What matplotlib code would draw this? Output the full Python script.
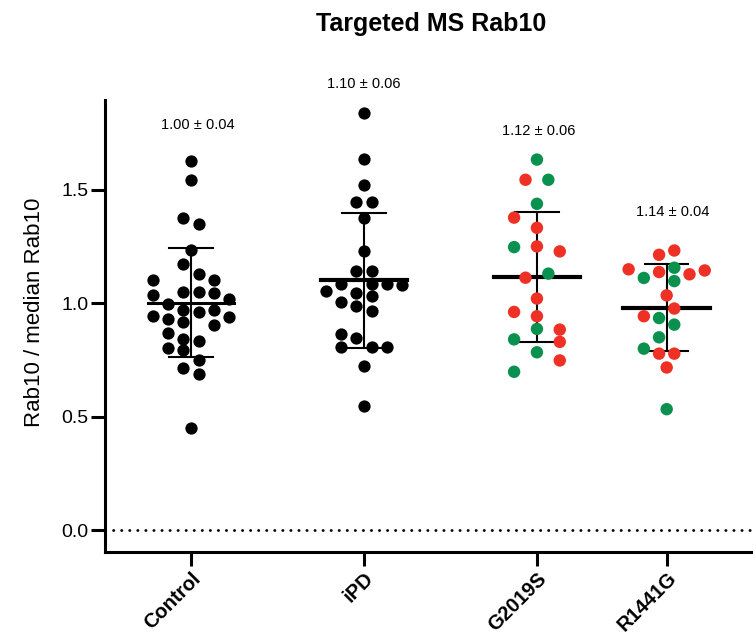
import numpy as np
import matplotlib.pyplot as plt

plt.rcParams['font.family'] = ['Liberation Sans', 'DejaVu Sans']

groups = ["Control", "iPD", "G2019S", "R1441G"]
group_pos = [0, 1, 2, 2.75]

# Rab10 / median Rab10 per sample
control = [1.627, 1.545, 1.378, 1.348, 1.233, 1.175, 1.131, 1.101, 1.101, 1.048, 1.048,
           1.045, 1.035, 1.021, 0.998, 0.972, 0.962, 0.970, 0.944, 0.940, 0.929, 0.918,
           0.906, 0.869, 0.843, 0.834, 0.803, 0.792, 0.749, 0.715, 0.687, 0.448]
ipd = [1.838, 1.637, 1.523, 1.449, 1.449, 1.378, 1.231, 1.142, 1.142, 1.087, 1.087,
       1.087, 1.079, 1.054, 1.045, 1.031, 1.006, 0.987, 0.966, 0.866, 0.849, 0.808,
       0.808, 0.808, 0.722, 0.546]
g2019s = [1.634, 1.545, 1.545, 1.439, 1.378, 1.333, 1.248, 1.251, 1.229, 1.113, 1.131,
          1.021, 0.962, 0.943, 0.887, 0.884, 0.841, 0.830, 0.784, 0.748, 0.698]
g2019s_kind = ["g", "r", "g", "g", "r", "r", "g", "r", "r", "r", "g",
               "r", "r", "r", "g", "r", "g", "r", "g", "r", "g"]
r1441g = [1.214, 1.233, 1.150, 1.138, 1.157, 1.128, 1.145, 1.112, 1.098, 1.035, 0.977,
          0.943, 0.935, 0.906, 0.850, 0.800, 0.778, 0.778, 0.717, 0.533]
r1441g_kind = ["r", "r", "r", "r", "g", "r", "r", "g", "g", "r", "r",
               "r", "g", "g", "g", "g", "r", "r", "r", "g"]

# swarm columns (in half-dot steps) as seen in the figure
control_slot = [0, 0, -0.5, 0.5, 0, -0.5, 0.5, -2.5, 1.5, -0.5, 0.5, 1.5, -2.5, 2.5, -1.5, -0.5,
                0.5, 1.5, -2.5, 2.5, -1.5, -0.5, 1.5, -1.5, -0.5, 0.5, -1.5, -0.5, 0.5, -0.5, 0.5, 0]
ipd_slot = [0, 0, 0, -0.5, 0.5, 0, 0, -0.5, 0.5, -1.5, 0.5, 1.5, 2.5, -2.5, -0.5, 0.5,
            -1.5, -0.5, 0.5, -1.5, -0.5, -1.5, 0.5, 1.5, 0, 0]
g2019s_slot = [0, -0.75, 0.75, 0, -1.5, 0, -1.5, 0, 1.5, -0.75, 0.75,
               0, -1.5, 0, 0, 1.5, -1.5, 1.5, 0, 1.5, -1.5]
r1441g_slot = [-0.5, 0.5, -2.5, -0.5, 0.5, 1.5, 2.5, -1.5, 0.5, 0, 0.5,
               -1.5, -0.5, 0.5, -0.5, -1.5, -0.5, 0.5, 0, 0]

means = [1.003, 1.101, 1.116, 0.981]
sd_low = [0.762, 0.803, 0.830, 0.789]
sd_high = [1.245, 1.400, 1.405, 1.175]
labels = ["1.00 ± 0.04", "1.10 ± 0.06", "1.12 ± 0.06", "1.14 ± 0.04"]
label_y = [1.787, 1.967, 1.761, 1.404]
label_dx = [0.04, 0.0, 0.01, 0.035]

red = "#EE3124"
green = "#0A9150"
step = 0.088

fig = plt.figure(figsize=(7.53, 6.38), dpi=100)
ax = fig.add_axes([0.1394, 0.1348, 0.8606, 0.7085])

data = [control, ipd, g2019s, r1441g]
slots = [control_slot, ipd_slot, g2019s_slot, r1441g_slot]
kinds = [None, None, g2019s_kind, r1441g_kind]
mean_lw = [2.2, 3.0, 3.0, 3.0]

for i in range(4):
    x0 = group_pos[i]
    xs = x0 + np.array(slots[i]) * step
    ys = np.array(data[i])
    if kinds[i] is None:
        ax.scatter(xs, ys, s=78, color="black", zorder=2, linewidths=0)
    else:
        cols = [red if k == "r" else green for k in kinds[i]]
        ax.scatter(xs, ys, s=80, color=cols, zorder=4, linewidths=0)
    ax.plot([x0 - 0.25, x0 + 0.25], [means[i], means[i]], color="black", lw=mean_lw[i], zorder=3)
    ax.plot([x0, x0], [sd_low[i], sd_high[i]], color="black", lw=1.5, zorder=3)
    for v in (sd_low[i], sd_high[i]):
        ax.plot([x0 - 0.125, x0 + 0.125], [v, v], color="black", lw=1.5, zorder=3)
    ax.text(x0 + label_dx[i], label_y[i], labels[i], ha="center", va="center", fontsize=10.5)

ax.axhline(0, color="black", lw=2.0, linestyle=(0, (0.1, 2.8)), dash_capstyle="round", zorder=1)

ax.set_xlim(-0.497, 3.249)
ax.set_ylim(-0.097, 1.897)
ax.set_yticks([0.0, 0.5, 1.0, 1.5])
ax.set_yticklabels(["0.0", "0.5", "1.0", "1.5"], fontsize=14)
ax.set_xticks(group_pos)
ax.set_xticklabels(groups, fontsize=14.5, fontweight="bold", rotation=45, ha="right",
                   rotation_mode="anchor")
ax.tick_params(axis="both", length=10, width=2.2)
ax.tick_params(axis="y", pad=2)
ax.tick_params(axis="x", pad=2)
ax.set_ylabel("Rab10 / median Rab10", fontsize=16)
ax.yaxis.set_label_coords(-0.092, 0.53)

for s in ["top", "right"]:
    ax.spines[s].set_visible(False)
for s in ["left", "bottom"]:
    ax.spines[s].set_linewidth(2.2)

fig.text(0.573, 0.963, "Targeted MS Rab10", ha="center", va="center", fontsize=18, fontweight="bold")

plt.savefig("out.png", dpi=100)
